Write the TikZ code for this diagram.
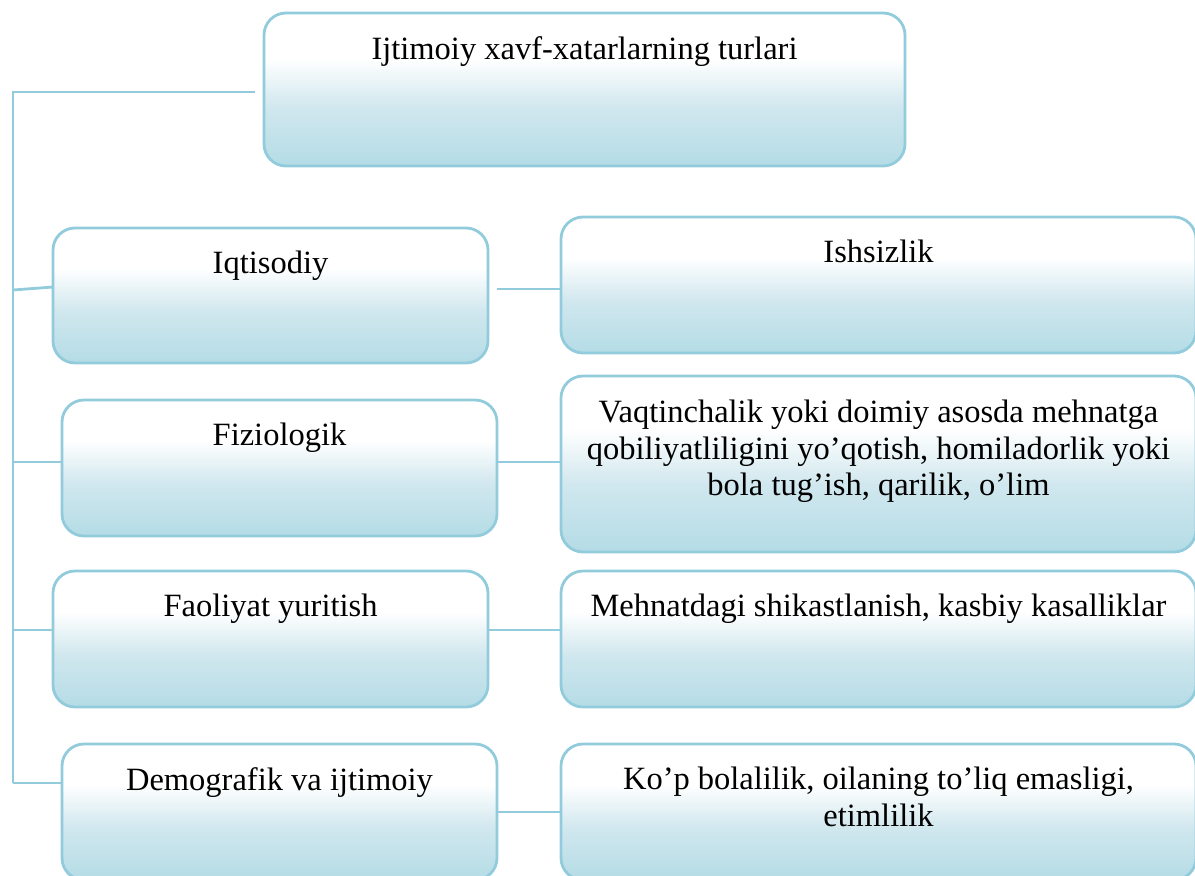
\documentclass[tikz,border=0pt]{standalone}
\usepackage{fontspec}
\setmainfont{Liberation Serif}

\definecolor{boxline}{RGB}{146,204,220}
\definecolor{boxlo}{RGB}{180,220,230}
\definecolor{boxmid}{RGB}{208,231,238}
% vertical fill of the panels: white at the top, light blue at the bottom
\pgfdeclareverticalshading{boxfill}{100bp}{color(0bp)=(boxlo); color(25bp)=(boxlo); color(44bp)=(boxmid); color(60bp)=(white); color(100bp)=(white)}

\tikzset{
  panel/.style={draw=boxline, line width=2.8pt, rounded corners=22pt, shade, shading=boxfill,
                anchor=north west, inner sep=0pt, outer sep=0pt},
  boxtext/.style={anchor=north, inner sep=0pt, align=center, text=black,
                  font=\fontsize{32.5}{36.5}\selectfont},
  link/.style={draw=boxline, line width=2.8pt}
}

\begin{document}
\begin{tikzpicture}[x=1pt, y=-1pt]
\useasboundingbox (0,0) rectangle (1195,876);
\clip (0,0) rectangle (1195,876);

% panels
\node[panel, minimum width=641pt, minimum height=153pt] (top) at (264,13) {};
\node[panel, minimum width=435pt, minimum height=135pt] (L1) at (53,228) {};
\node[panel, minimum width=435pt, minimum height=136pt] (L2) at (62,400) {};
\node[panel, minimum width=435pt, minimum height=136pt] (L3) at (53,571) {};
\node[panel, minimum width=435pt, minimum height=136pt] (L4) at (62,744) {};
\node[panel, minimum width=635pt, minimum height=136pt] (R1) at (561,217) {};
\node[panel, minimum width=635pt, minimum height=176pt] (R2) at (561,376) {};
\node[panel, minimum width=635pt, minimum height=136pt] (R3) at (561,571) {};
\node[panel, minimum width=635pt, minimum height=136pt] (R4) at (561,744) {};

% texts
\node[boxtext] (ttop) at ([yshift=-23pt]top.north) {Ijtimoiy xavf-xatarlarning turlari};
\node[boxtext] (tL1) at ([yshift=-23pt]L1.north) {Iqtisodiy};
\node[boxtext] (tL2) at ([yshift=-23pt]L2.north) {Fiziologik};
\node[boxtext] (tL3) at ([yshift=-23pt]L3.north) {Faoliyat yuritish};
\node[boxtext] (tL4) at ([yshift=-23pt]L4.north) {Demografik va ijtimoiy};
\node[boxtext] (tR1) at ([yshift=-23pt]R1.north) {Ishsizlik};
\node[boxtext] (tR2) at ([yshift=-24pt]R2.north) {Vaqtinchalik yoki doimiy asosda mehnatga\\qobiliyatliligini yo’qotish, homiladorlik yoki\\bola tug’ish, qarilik, o’lim};
\node[boxtext] (tR3) at ([yshift=-23pt]R3.north) {Mehnatdagi shikastlanish, kasbiy kasalliklar};
\node[boxtext] (tR4) at ([yshift=-23pt]R4.north) {Ko’p bolalilik, oilaning to’liq emasligi,\\etimlilik};

% trunk on the left
\coordinate (topend) at (255,92);
\coordinate (j0) at (13,92);
\coordinate (j1) at (13,290);
\coordinate (j2) at (13,462);
\coordinate (j3) at (13,630);
\coordinate (j4) at (13,783);
\draw[link] (topend) -- (j0) -- (j4);
\draw[link] (j1) -- ([yshift=8.5pt]L1.west);
\draw[link] (j2) -- (L2.west |- j2);
\draw[link] (j3) -- (L3.west |- j3);
\draw[link] (j4) -- (L4.west |- j4);

% branches to the right column
\coordinate (b1) at (497,289);
\coordinate (b4) at (497,812);
\draw[link] (b1) -- (R1.west |- b1);
\draw[link] (L2.east |- j2) -- (R2.west |- j2);
\draw[link] (L3.east |- j3) -- (R3.west |- j3);
\draw[link] (b4) -- (R4.west |- b4);
\end{tikzpicture}
\end{document}
